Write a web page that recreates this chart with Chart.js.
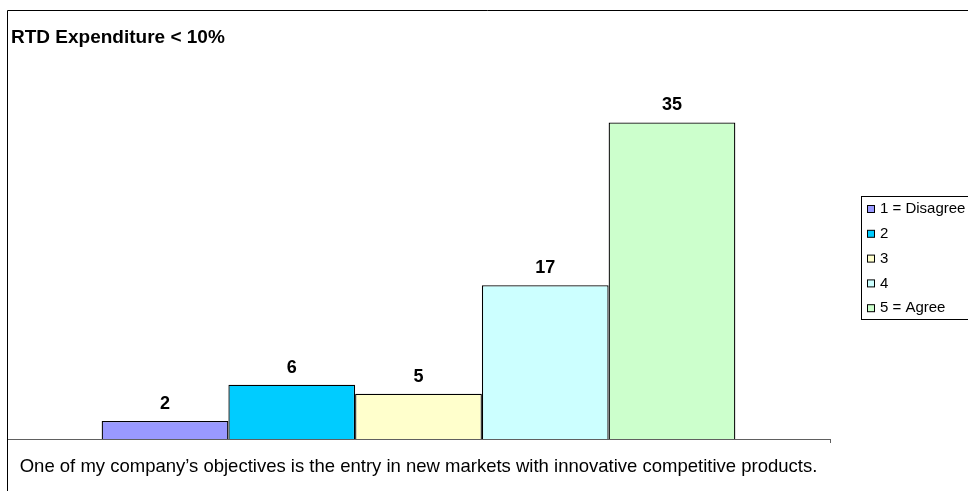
<!DOCTYPE html>
<html lang="en">
<head>
<meta charset="UTF-8">
<title>RTD Expenditure < 10%</title>
<style>
  body { margin: 0; background: #fff; }
  #wrap { position: relative; width: 968px; height: 491px; }
</style>
</head>
<body>
<div id="wrap"><canvas id="myChart" width="968" height="491"></canvas></div>
<script src="https://cdn.jsdelivr.net/npm/chart.js"></script>
<script>
// data
const chartTitle = 'RTD Expenditure < 10%'
const categories = ['One of my company\u2019s objectives is the entry in new markets with innovative competitive products.']
const seriesNames = ['1 = Disagree', '2', '3', '4', '5 = Agree']
const seriesValues = [2, 6, 5, 17, 35]
const seriesColors = ['#9999FF', '#00CCFF', '#FFFFCC', '#CCFFFF', '#CCFFCC']

const FONT = '"Liberation Sans", Arial, sans-serif'

// frame, title, value labels, legend box
const decor = {
  id: 'decor',
  afterDraw(chart) {
    const c = chart.ctx
    c.save()
    c.strokeStyle = '#000'
    c.lineWidth = 1
    c.beginPath()
    c.moveTo(7.5, 491)
    c.lineTo(7.5, 10.5)
    c.lineTo(968, 10.5)
    c.stroke()

    c.fillStyle = '#000'
    c.font = 'bold 19px ' + FONT
    c.textBaseline = 'alphabetic'
    c.textAlign = 'left'
    c.fillText(chartTitle, 11, 43)

    // value labels
    c.font = 'bold 18px ' + FONT
    c.textAlign = 'center'
    chart.data.datasets.forEach((ds, i) => {
      const bar = chart.getDatasetMeta(i).data[0]
      c.fillText(String(ds.data[0]), bar.x, bar.y - 12)
    })

    // legend
    c.strokeStyle = '#000'
    c.strokeRect(861.5, 196.5, 120, 123)
    c.font = '15px ' + FONT
    c.textAlign = 'left'
    c.textBaseline = 'middle'
    chart.data.datasets.forEach((ds, i) => {
      const y = 209 + i * 24.8
      c.fillStyle = ds.backgroundColor
      c.fillRect(867.5, y - 3.5, 7, 7)
      c.strokeStyle = '#000'
      c.strokeRect(867.5, y - 3.5, 7, 7)
      c.fillStyle = '#000'
      c.fillText(ds.label, 880, y)
    })
    c.restore()
  }
}

const ctx = document.getElementById('myChart')
const myChart = new Chart(ctx, {
  type: 'bar',
  data: {
    labels: categories,
    datasets: seriesNames.map((name, i) => ({
      label: name,
      data: [seriesValues[i]],
      backgroundColor: seriesColors[i],
      borderColor: '#000',
      borderWidth: 1.3,
      borderSkipped: 'bottom'
    }))
  },
  options: {
    responsive: false,
    animation: false,
    layout: { padding: { top: 41, left: 7, right: 138, bottom: 0 } },
    categoryPercentage: 0.77,
    barPercentage: 1,
    plugins: {
      legend: { display: false },
      tooltip: { enabled: false },
      title: { display: false }
    },
    scales: {
      x: {
        grid: { drawOnChartArea: false, tickLength: 4, color: '#606060', offset: true },
        border: { color: '#606060', width: 1 },
        ticks: { color: '#000', font: { family: FONT, size: 18.5 }, padding: 13, maxRotation: 0 },
        afterFit(scale) { scale.height = 52 }
      },
      y: {
        display: false,
        min: 0,
        max: 44
      }
    }
  },
  plugins: [decor]
})
</script>
</body>
</html>
